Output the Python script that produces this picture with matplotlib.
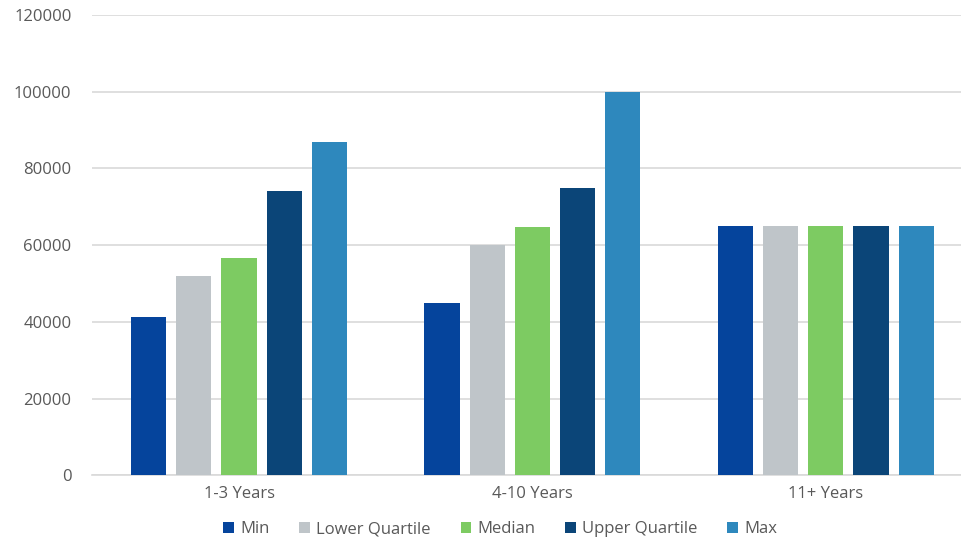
import numpy as np
import matplotlib.pyplot as plt

plt.rcParams['font.family'] = ['Open Sans', 'DejaVu Sans']

categories = ['1-3 Years', '4-10 Years', '11+ Years']
series_names = ['Min', 'Lower Quartile', 'Median', 'Upper Quartile', 'Max']
min_vals = [41200, 45000, 65000]
lower_q = [52000, 60000, 65000]
median = [56600, 64800, 65000]
upper_q = [74000, 74900, 65000]
max_vals = [87000, 100000, 65000]
colors = ['#05449C', '#BFC5C9', '#7DCB62', '#0B4578', '#2E88BD']

values = [min_vals, lower_q, median, upper_q, max_vals]

fig = plt.figure(figsize=(9.62, 5.40), dpi=100)
ax = fig.add_axes([0.096, 0.12, 0.915, 0.852])

x = np.arange(len(categories))
step = 0.154
width = 0.12
for i, (name, vals, c) in enumerate(zip(series_names, values, colors)):
    ax.bar(x + (i - 2) * step, vals, width, color=c, label=name, zorder=3)

ax.set_xlim(-0.5, 2.5)
ax.set_ylim(0, 120000)
ax.set_yticks(np.arange(0, 120001, 20000))
ax.yaxis.grid(True, color='#D9D9D9', linewidth=1.2, zorder=0)
ax.set_xticks(x)
ax.set_xticklabels(categories)
ax.tick_params(axis='both', length=0, labelsize=12, colors='#595959')
ax.tick_params(axis='y', pad=15)
ax.tick_params(axis='x', pad=8)
for s in ['top', 'right', 'left']:
    ax.spines[s].set_visible(False)
ax.spines['bottom'].set_color('#D9D9D9')
ax.spines['bottom'].set_linewidth(1.2)

leg = fig.legend(loc='center', bbox_to_anchor=(0.52, 0.02), ncol=5, frameon=False,
                 fontsize=12, handlelength=0.65, handleheight=0.65, handletextpad=0.35,
                 columnspacing=1.8)
for t in leg.get_texts():
    t.set_color('#595959')

fig.savefig('out.png', dpi=100)
